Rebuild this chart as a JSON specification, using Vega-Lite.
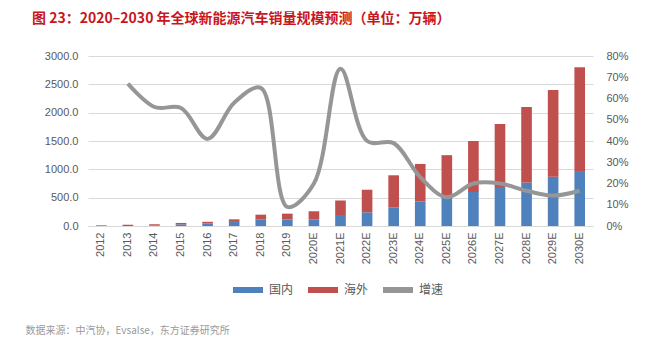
{
  "$schema": "https://vega.github.io/schema/vega-lite/v6.json",
  "autosize": {"type": "none"},
  "width": 505,
  "height": 170,
  "padding": {"left": 88, "top": 56, "right": 54, "bottom": 134},
  "background": "white",
  "title": {
    "text": "图 23：2020–2030 年全球新能源汽车销量规模预测（单位：万辆）",
    "anchor": "start",
    "frame": "group",
    "dx": -56,
    "offset": 24,
    "font": "Noto Sans CJK SC",
    "fontSize": 14,
    "fontWeight": "bold",
    "color": "#C8161D"
  },
  "data": {
    "values": [
      {"year": "2012", "国内": 1, "海外": 11, "增速": null},
      {"year": "2013", "国内": 2, "海外": 18, "增速": 0.67},
      {"year": "2014", "国内": 8, "海外": 25, "增速": 0.56},
      {"year": "2015", "国内": 30, "海外": 24, "增速": 0.555},
      {"year": "2016", "国内": 45, "海外": 29, "增速": 0.41},
      {"year": "2017", "国内": 72, "海外": 46, "增速": 0.58},
      {"year": "2018", "国内": 118, "海外": 82, "增速": 0.65},
      {"year": "2019", "国内": 115, "海外": 103, "增速": 0.09},
      {"year": "2020E", "国内": 118, "海外": 142, "增速": 0.2},
      {"year": "2021E", "国内": 194, "海外": 256, "增速": 0.74},
      {"year": "2022E", "国内": 242, "海外": 398, "增速": 0.4},
      {"year": "2023E", "国内": 330, "海外": 565, "增速": 0.39},
      {"year": "2024E", "国内": 435, "海外": 660, "增速": 0.23},
      {"year": "2025E", "国内": 510, "海外": 740, "增速": 0.135},
      {"year": "2026E", "国内": 600, "海外": 900, "增速": 0.2},
      {"year": "2027E", "国内": 688, "海外": 1112, "增速": 0.2},
      {"year": "2028E", "国内": 765, "海外": 1335, "增速": 0.166},
      {"year": "2029E", "国内": 870, "海外": 1530, "增速": 0.143},
      {"year": "2030E", "国内": 970, "海外": 1830, "增速": 0.166}
    ]
  },
  "encoding": {
    "x": {
      "field": "year",
      "type": "nominal",
      "sort": null,
      "scale": {"paddingInner": 0.6, "paddingOuter": 0.3},
      "axis": {
        "title": "数据来源：中汽协，Evsalse，东方证券研究所",
        "titleFont": "Noto Sans CJK SC",
        "titleFontSize": 10,
        "titleFontWeight": "normal",
        "titleColor": "#9A9A9A",
        "titleAnchor": "start",
        "titleAlign": "left",
        "titleBaseline": "middle",
        "titleX": -63,
        "titleY": 104,
        "labelAngle": -90,
        "labelFont": "Liberation Sans",
        "labelFontSize": 11,
        "labelColor": "#595959",
        "labelPadding": 6,
        "ticks": false,
        "domainColor": "#D9D9D9",
        "grid": false
      }
    }
  },
  "layer": [
    {
      "transform": [{"fold": ["国内", "海外"], "as": ["series", "value"]}],
      "mark": {"type": "bar"},
      "encoding": {
        "y": {
          "field": "value",
          "type": "quantitative",
          "stack": "zero",
          "scale": {"domain": [0, 3000]},
          "axis": {
            "title": null,
            "values": [0, 500, 1000, 1500, 2000, 2500, 3000],
            "format": ".1f",
            "grid": true,
            "gridColor": "#D9D9D9",
            "domain": false,
            "ticks": false,
            "labelPadding": 10,
            "labelFont": "Liberation Sans",
            "labelFontSize": 11,
            "labelColor": "#595959"
          }
        },
        "color": {
          "field": "series",
          "type": "nominal",
          "scale": {"domain": ["国内", "海外", "增速"], "range": ["#4F81BD", "#C0504D", "#969696"]},
          "legend": {
            "orient": "none",
            "legendX": 142,
            "legendY": 216,
            "direction": "horizontal",
            "title": null,
            "symbolType": "stroke",
            "symbolSize": 900,
            "symbolStrokeWidth": 6,
            "labelFont": "Noto Sans CJK SC",
            "labelFontSize": 12,
            "labelColor": "#595959",
            "labelOffset": 3,
            "columnPadding": 2,
            "encode": {"symbols": {"update": {"stroke": {"scale": "color", "field": "value"}}}}
          }
        },
        "order": {"field": "series", "type": "nominal", "sort": "ascending"}
      }
    },
    {
      "mark": {"type": "line", "interpolate": "catmull-rom", "strokeWidth": 4, "color": "#969696"},
      "encoding": {
        "y": {
          "field": "增速",
          "type": "quantitative",
          "scale": {"domain": [0, 0.8]},
          "axis": {
            "title": null,
            "orient": "right",
            "values": [0, 0.1, 0.2, 0.3, 0.4, 0.5, 0.6, 0.7, 0.8],
            "format": ".0%",
            "grid": false,
            "domain": false,
            "ticks": false,
            "labelPadding": 13,
            "labelFont": "Liberation Sans",
            "labelFontSize": 11,
            "labelColor": "#595959"
          }
        },
        "color": {"datum": "增速"}
      }
    }
  ],
  "resolve": {"scale": {"y": "independent"}},
  "config": {"view": {"stroke": null}}
}
